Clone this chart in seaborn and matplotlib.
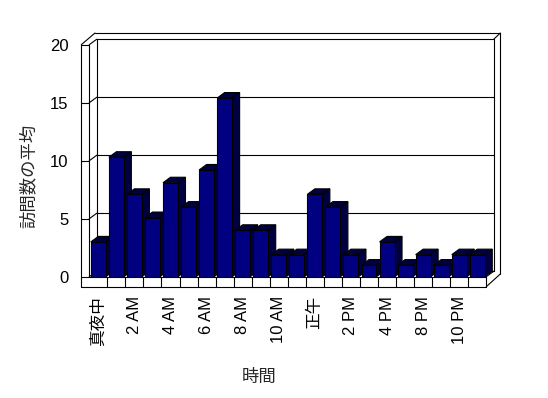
import numpy as np
import pandas as pd
import matplotlib
matplotlib.use("Agg")
import matplotlib.pyplot as plt
import matplotlib.transforms as mtransforms
from matplotlib.patches import Polygon
from matplotlib.lines import Line2D
import seaborn as sns

# data
hours = ['真夜中', '1 AM', '2 AM', '3 AM', '4 AM', '5 AM', '6 AM', '7 AM',
         '8 AM', '9 AM', '10 AM', '11 AM', '正午', '1 PM', '2 PM', '3 PM',
         '4 PM', '5 PM', '8 PM', '9 PM', '10 PM', '11 PM']
visits = [3.0, 10.3, 7.1, 5.1, 8.1, 6.0, 9.2, 15.4, 4.0, 4.0, 1.9, 1.9,
          7.1, 6.0, 1.9, 1.0, 3.0, 1.0, 1.9, 1.0, 1.9, 1.9]
y_ticks = [0, 5, 10, 15, 20]
x_title = '時間'
y_title = '訪問数の平均'

df = pd.DataFrame({'hour': hours, 'visits': visits})

sns.set_theme(style='white')
plt.rcParams['font.family'] = ['Liberation Sans', 'Noto Sans CJK JP', 'DejaVu Sans']

W_PX, H_PX = 548, 398
fig = plt.figure(figsize=(W_PX / 100, H_PX / 100), dpi=100)
fig.patch.set_facecolor('white')

# front plane of the 3D box, in pixels
left, right, top, bottom = 89.3, 486.3, 44.7, 276.7
ax = fig.add_axes([left / W_PX, 1 - bottom / H_PX,
                   (right - left) / W_PX, (bottom - top) / H_PX])
ax.set_facecolor('none')

sns.barplot(data=df, x='hour', y='visits', order=hours, color='#000080',
            saturation=1, width=0.83, edgecolor='black', linewidth=0.8, ax=ax)

n = len(hours)
L, R = -0.5, n - 0.5
ax.set_xlim(L, R)
ax.set_ylim(0, 20)
for s in ax.spines.values():
    s.set_visible(False)
ax.grid(False)

ax.set_yticks(y_ticks)
ax.set_yticklabels([str(t) for t in y_ticks], fontsize=12)
ax.set_xticks(range(0, n, 2))
ax.set_xticklabels(hours[::2], rotation=90, fontsize=12)
ax.tick_params(axis='both', length=0, colors='black')
ax.tick_params(axis='y', pad=15)
ax.tick_params(axis='x', pad=14)

ax.set_xlabel(x_title, fontsize=12.5, va='center', ha='center')
ax.xaxis.set_label_coords((259 - left) / (right - left), -(377 - bottom) / (bottom - top))
ax.set_ylabel(y_title, fontsize=12.5, va='center', ha='center')
ax.yaxis.set_label_coords(-(left - 28.5) / (right - left), (bottom - 175.5) / (bottom - top))

ident = mtransforms.IdentityTransform()
D = (7.5, 5.5)


def fp(x, y, off=(0, 0)):
    px, py = ax.transData.transform((x, y))
    return px + off[0], py + off[1]


def seg(a, b, z=1):
    p1 = fp(*a)
    p2 = fp(*b)
    ax.add_line(Line2D([p1[0], p2[0]], [p1[1], p2[1]], transform=ident,
                       color='black', lw=0.8, clip_on=False, zorder=z))


# back wall and gridlines
for v in y_ticks[1:]:
    seg((L, v, D), (R, v, D))
seg((L, 0, D), (R, 0, D))
seg((L, 0, D), (L, 20, D))
seg((R, 0, D), (R, 20, D))
# side wall
seg((L, 0), (L, 20))
for v in y_ticks:
    seg((L, v), (L, v, D))
for v in y_ticks[1:]:
    seg((L, v, (-8, 0)), (L, v))
seg((L, 20, (-8, 0)), (L, 0, (-8, -10)))
seg((L, 20, (-8, 0)), (L, 20, (5.7, 11.7)))
# outer back wall edge
seg((L, 20, (5.7, 11.7)), (R, 20, (14, 11.7)))
seg((R, 20, (14, 11.7)), (R, 20, D))
seg((R, 20, (14, 11.7)), (R, 0, (14, 2.7)))
seg((R, 0, (14, 2.7)), (R, 0, (0, -10)))
# floor
seg((L, 0, (-8, 0)), (R, 0), z=6)
seg((L, 0, (-8, -10)), (R, 0, (0, -10)), z=6)
seg((R, 0), (R, 0, (0, -10)), z=6)
seg((R, 0), (R, 0, D))
for k in range(1, n):
    seg((L + k, 0), (L + k, 0, (0, -10)), z=6)

# 3D tops and sides for the bars drawn by seaborn
shade = '#000040'
for i, p in enumerate(ax.patches):
    x0 = p.get_x()
    x1 = x0 + p.get_width()
    h = p.get_height()
    zf = 3 + i * 0.01
    p.set_zorder(zf + 0.005)
    top_poly = [fp(x0, h), fp(x1, h), fp(x1, h, D), fp(x0, h, D)]
    side_poly = [fp(x1, 0), fp(x1, h), fp(x1, h, D), fp(x1, 0, D)]
    for poly in (top_poly, side_poly):
        ax.add_patch(Polygon(poly, closed=True, transform=ident,
                             facecolor=shade, edgecolor='black', lw=0.8,
                             clip_on=False, zorder=zf))

fig.savefig('out.png', dpi=100, facecolor='white')
